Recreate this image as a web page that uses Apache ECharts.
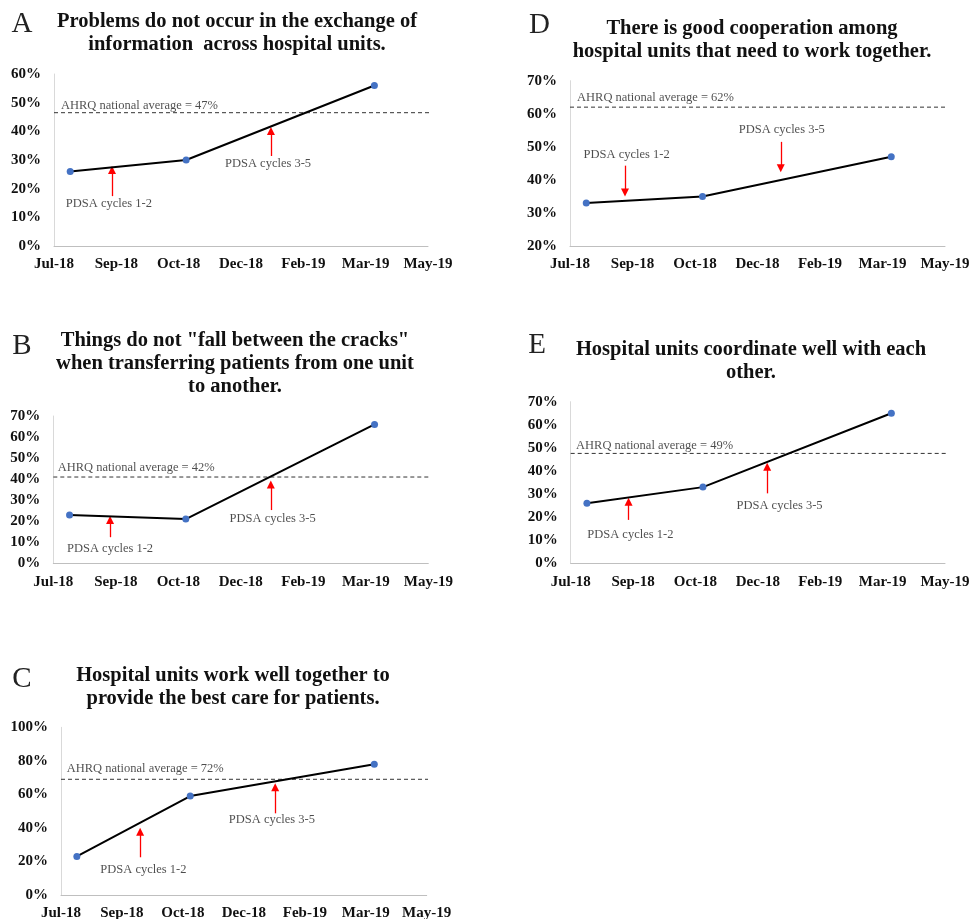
<!DOCTYPE html>
<html>
<head>
<meta charset="utf-8">
<script src="https://cdn.jsdelivr.net/npm/echarts@6/dist/echarts.min.js"></script>
<style>
html,body{margin:0;padding:0;background:#fff;}
#chart{width:969px;height:919px;}
</style>
</head>
<body>
<div id="chart"></div>
<script>
// ---- data ----
const xTickLabels = ['Jul-18','Sep-18','Oct-18','Dec-18','Feb-19','Mar-19','May-19'];
const xTickStep = 50;          // days between tick labels
const surveyDays = [13, 106, 257]; // survey time points, days from axis start

const panelLetters = ['A','B','C','D','E'];
const panelTitles = [
  'Problems do not occur in the exchange of\ninformation  across hospital units.',
  'Things do not "fall between the cracks"\nwhen transferring patients from one unit\nto another.',
  'Hospital units work well together to\nprovide the best care for patients.',
  'There is good cooperation among\nhospital units that need to work together.',
  'Hospital units coordinate well with each\nother.'
];
const valuesA = [26, 30, 56];
const valuesB = [23, 21, 66];
const valuesC = [23, 59, 78];
const valuesD = [33, 35, 47];
const valuesE = [26, 33, 65];

const yMin = [0, 0, 0, 20, 0];
const yMax = [60, 70, 100, 70, 70];
const yStep = [10, 10, 20, 10, 10];

const ahrqAverage = [47, 42, 72, 62, 49];       // value stated in label
const ahrqLineLevel = [46.5, 41, 69, 62, 47.6];   // where the dashed line is drawn
const ahrqLineEnd = [310, 308, 316, 310, 311];

// annotation arrows: [day, tail %, tip %]
const arrowsA = [[46.5, 17.4, 26.5], [174, 31.4, 40.1]];
const arrowsB = [[45.4, 12.4, 20.6], [174, 25.3, 37.5]];
const arrowsC = [[64.9, 22.5, 37.7], [175.7, 48.7, 64.2]];
const arrowsD = [[44, 44.3, 36.2], [168.6, 51.5, 43.5]];
const arrowsE = [[46.4, 18.8, 26.7], [157.5, 30.3, 41.8]];
// annotation labels: [day, %] for "PDSA cycles 1-2" and "PDSA cycles 3-5"
const cycleLabelText = ['PDSA cycles 1-2', 'PDSA cycles 3-5'];
const cycleLabelsA = [[44, 14.6], [171.7, 28.6]];
const cycleLabelsB = [[45.4, 7.1], [175.5, 21.4]];
const cycleLabelsC = [[67.6, 14.9], [173, 45.1]];
const cycleLabelsD = [[45.3, 47.7], [169.4, 55.3]];
const cycleLabelsE = [[47.8, 12.3], [167.4, 24.9]];
// position of the "AHRQ national average" text start: [day, %]
const ahrqLabelPos = [[5.6, 49], [3.5, 45.4], [4.7, 75.1], [5.6, 64.8], [4.3, 50.8]];

// ---- layout (pixels) ----
const grids = [
  {left: 54,    top: 74,    width: 374,   height: 172},
  {left: 53.3,  top: 416,   width: 375,   height: 147.3},
  {left: 61,    top: 727.3, width: 365.7, height: 167.7},
  {left: 570,   top: 80.7,  width: 375,   height: 165.3},
  {left: 570.7, top: 401.7, width: 374.3, height: 161.6}
];
const titlePos = [
  {cx: 237, top: 10.7}, {cx: 235, top: 329.5}, {cx: 233, top: 664.3},
  {cx: 752, top: 16.8}, {cx: 751, top: 337.8}
];
const letterPos = [
  {cx: 22, cy: 24.5}, {cx: 22, cy: 346}, {cx: 22, cy: 679.5},
  {cx: 539.5, cy: 25}, {cx: 537, cy: 345.5}
];

const allValues = [valuesA, valuesB, valuesC, valuesD, valuesE];
const allArrows = [arrowsA, arrowsB, arrowsC, arrowsD, arrowsE];
const allCycleLabels = [cycleLabelsA, cycleLabelsB, cycleLabelsC, cycleLabelsD, cycleLabelsE];

const SERIF = '"Liberation Serif", "Times New Roman", serif';

const option = {
  animation: false,
  backgroundColor: '#fff',
  title: [],
  grid: [],
  xAxis: [],
  yAxis: [],
  series: []
};

for (let i = 0; i < 5; i++) {
  option.title.push({
    text: panelTitles[i],
    left: titlePos[i].cx, top: titlePos[i].top, textAlign: 'center',
    padding: 0,
    textStyle: {fontFamily: SERIF, fontWeight: 'bold', fontSize: 20.5, lineHeight: 23, color: '#111'}
  });
  option.title.push({
    text: panelLetters[i],
    left: letterPos[i].cx, top: letterPos[i].cy - 15, textAlign: 'center',
    padding: 0,
    textStyle: {fontFamily: SERIF, fontWeight: 'normal', fontSize: 29, lineHeight: 30, color: '#222'}
  });
  option.grid.push(Object.assign({containLabel: false, outerBoundsMode: 'none'}, grids[i]));
  option.xAxis.push({
    type: 'value', gridIndex: i, min: 0, max: xTickStep * (xTickLabels.length - 1), interval: xTickStep,
    axisLine: {show: true, lineStyle: {color: '#BFBFBF', width: 1}},
    axisTick: {show: false},
    splitLine: {show: false},
    axisLabel: {
      margin: 11, color: '#111', fontFamily: SERIF, fontWeight: 'bold', fontSize: 15,
      showMinLabel: true, showMaxLabel: true,
      formatter: v => xTickLabels[Math.round(v / xTickStep)] || ''
    }
  });
  option.yAxis.push({
    type: 'value', gridIndex: i, min: yMin[i], max: yMax[i], interval: yStep[i],
    axisLine: {show: true, lineStyle: {color: '#D9D9D9', width: 1}},
    axisTick: {show: false},
    splitLine: {show: false},
    axisLabel: {
      margin: 13, color: '#111', fontFamily: SERIF, fontWeight: 'bold', fontSize: 15,
      formatter: v => v + '%'
    }
  });
  // main data line
  option.series.push({
    type: 'line', xAxisIndex: i, yAxisIndex: i,
    data: surveyDays.map((d, k) => [d, allValues[i][k]]),
    symbol: 'circle', symbolSize: 7, showSymbol: true,
    itemStyle: {color: '#4472C4'},
    lineStyle: {color: '#000', width: 2},
    z: 5, silent: true
  });
  // AHRQ dashed line
  option.series.push({
    type: 'line', xAxisIndex: i, yAxisIndex: i,
    data: [[0, ahrqLineLevel[i]], [ahrqLineEnd[i], ahrqLineLevel[i]]],
    showSymbol: false, symbol: 'none', clip: false,
    lineStyle: {color: '#333', width: 1, type: [4, 3]},
    z: 3, silent: true
  });
  // annotation texts + arrows
  const labelData = allCycleLabels[i].map((p, k) => ({name: cycleLabelText[k], value: p,
    label: {position: 'inside'}}));
  labelData.push({name: 'AHRQ national average = ' + ahrqAverage[i] + '%', value: ahrqLabelPos[i],
    label: {position: 'right', distance: 0}});
  option.series.push({
    type: 'scatter', xAxisIndex: i, yAxisIndex: i,
    data: labelData, symbolSize: 0, clip: false, silent: true,
    label: {show: true, formatter: '{b}', fontFamily: SERIF, fontSize: 12.5, color: '#1f1f1f'},
    markLine: {
      silent: true, animation: false,
      symbol: ['none', 'triangle'], symbolSize: 8,
      label: {show: false},
      itemStyle: {color: '#FF0000'},
      lineStyle: {color: '#FF0000', width: 1.3, type: 'solid'},
      emphasis: {disabled: true},
      data: allArrows[i].map(a => [{coord: [a[0], a[1]]}, {coord: [a[0], a[2]]}])
    },
    z: 4
  });
}

const chart = echarts.init(document.getElementById('chart'), null, {renderer: 'canvas'});
chart.setOption(option);
</script>
</body>
</html>
